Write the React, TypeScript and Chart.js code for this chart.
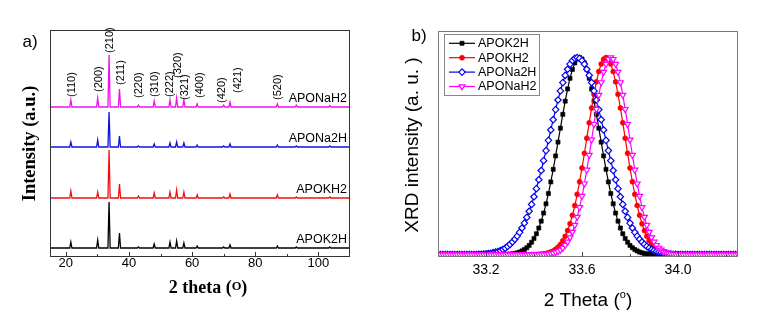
import React, { useEffect, useRef } from 'react';
import { Chart, registerables } from 'chart.js';
import { drawPoint } from 'chart.js/helpers';

Chart.register(...registerables);

const SANS = '"Liberation Sans", Arial, Helvetica, sans-serif';
const SERIF = '"Liberation Serif", "Times New Roman", serif';

// ---------------- Panel a: full XRD patterns ----------------
const hklLabels = ['(110)', '(200)', '(210)', '(211)', '(220)', '(310)', '(222)', '(320)', '(321)', '(400)', '(420)', '(421)', '(520)'];
const peakTheta = [21.6, 30.1, 33.7, 37.0, 43.0, 48.0, 53.0, 55.1, 57.4, 61.6, 70.0, 72.0, 87.0, 93.0, 103.6];
const patternNames = ['APOK2H', 'APOKH2', 'APONa2H', 'APONaH2'];
const peakK2H = [6, 8, 46, 15, 1, 4, 6, 7, 5, 2, 1, 3, 2, 1, 1];
const peakKH2 = [7, 6, 48, 14, 2, 5, 6, 8, 6, 3, 1, 4, 3, 1, 1];
const peakNa2H = [5, 7, 35, 11, 1, 3, 4, 5, 4, 2, 1, 3, 2, 1, 1];
const peakNaH2 = [7, 9, 52, 18, 2, 6, 7, 9, 7, 3, 2, 5, 3, 2, 1.5];
const patternOffsets = [9, 59, 110, 150];
const ticksA = [20, 30, 40, 50, 60, 70, 80, 90, 100];
const tickLabelsA = [20, 40, 60, 80, 100];

// ---------------- Panel b: (210) peak region ----------------
const thetaB = [
  33.00, 33.01, 33.02, 33.03, 33.04, 33.05, 33.06, 33.07, 33.08, 33.09,
  33.10, 33.11, 33.12, 33.13, 33.14, 33.15, 33.16, 33.17, 33.18, 33.19,
  33.20, 33.21, 33.22, 33.23, 33.24, 33.25, 33.26, 33.27, 33.28, 33.29,
  33.30, 33.31, 33.32, 33.33, 33.34, 33.35, 33.36, 33.37, 33.38, 33.39,
  33.40, 33.41, 33.42, 33.43, 33.44, 33.45, 33.46, 33.47, 33.48, 33.49,
  33.50, 33.51, 33.52, 33.53, 33.54, 33.55, 33.56, 33.57, 33.58, 33.59,
  33.60, 33.61, 33.62, 33.63, 33.64, 33.65, 33.66, 33.67, 33.68, 33.69,
  33.70, 33.71, 33.72, 33.73, 33.74, 33.75, 33.76, 33.77, 33.78, 33.79,
  33.80, 33.81, 33.82, 33.83, 33.84, 33.85, 33.86, 33.87, 33.88, 33.89,
  33.90, 33.91, 33.92, 33.93, 33.94, 33.95, 33.96, 33.97, 33.98, 33.99,
  34.00, 34.01, 34.02, 34.03, 34.04, 34.05, 34.06, 34.07, 34.08, 34.09,
  34.10, 34.11, 34.12, 34.13, 34.14, 34.15, 34.16, 34.17, 34.18, 34.19,
  34.20, 34.21, 34.22, 34.23, 34.24, 34.25,
];
const k2hB = [
  0, 0, 0, 0, 0, 0, 0, 0, 0, 0,
  0, 0, 0, 0, 0, 0, 0, 0, 0, 0,
  0, 0, 0, 0, 0, 0, 0, 0, 0.001, 0.002,
  0.003, 0.004, 0.006, 0.009, 0.013, 0.019, 0.026, 0.035, 0.047, 0.063,
  0.082, 0.106, 0.135, 0.170, 0.211, 0.258, 0.310, 0.369, 0.433, 0.501,
  0.571, 0.642, 0.712, 0.779, 0.841, 0.895, 0.940, 0.973, 0.993, 1,
  0.993, 0.973, 0.940, 0.895, 0.841, 0.779, 0.712, 0.642, 0.571, 0.501,
  0.433, 0.369, 0.310, 0.258, 0.211, 0.170, 0.135, 0.106, 0.082, 0.063,
  0.047, 0.035, 0.026, 0.019, 0.013, 0.009, 0.006, 0.004, 0.003, 0.002,
  0.001, 0, 0, 0, 0, 0, 0, 0, 0, 0,
  0, 0, 0, 0, 0, 0, 0, 0, 0, 0,
  0, 0, 0, 0, 0, 0, 0, 0, 0, 0,
  0, 0, 0, 0, 0, 0,
];
const kh2B = [
  0, 0, 0, 0, 0, 0, 0, 0, 0, 0,
  0, 0, 0, 0, 0, 0, 0, 0, 0, 0,
  0, 0, 0, 0, 0, 0, 0, 0, 0, 0,
  0, 0, 0, 0, 0, 0, 0, 0, 0, 0,
  0, 0.001, 0.002, 0.003, 0.004, 0.006, 0.009, 0.013, 0.019, 0.027,
  0.037, 0.051, 0.070, 0.093, 0.122, 0.157, 0.200, 0.249, 0.306, 0.370,
  0.440, 0.514, 0.591, 0.669, 0.744, 0.814, 0.877, 0.929, 0.968, 0.992,
  1, 0.992, 0.968, 0.929, 0.877, 0.814, 0.744, 0.669, 0.591, 0.514,
  0.440, 0.370, 0.306, 0.249, 0.200, 0.157, 0.122, 0.093, 0.070, 0.051,
  0.037, 0.027, 0.019, 0.013, 0.009, 0.006, 0.004, 0.003, 0.002, 0.001,
  0, 0, 0, 0, 0, 0, 0, 0, 0, 0,
  0, 0, 0, 0, 0, 0, 0, 0, 0, 0,
  0, 0, 0, 0, 0, 0,
];
const na2hB = [
  0, 0, 0, 0, 0, 0, 0, 0, 0, 0,
  0, 0, 0, 0, 0, 0.001, 0.001, 0.002, 0.002, 0.003,
  0.004, 0.006, 0.007, 0.010, 0.013, 0.016, 0.021, 0.026, 0.033, 0.042,
  0.052, 0.064, 0.078, 0.094, 0.113, 0.135, 0.160, 0.189, 0.220, 0.255,
  0.294, 0.335, 0.380, 0.427, 0.477, 0.528, 0.580, 0.633, 0.685, 0.736,
  0.785, 0.831, 0.873, 0.910, 0.941, 0.967, 0.985, 0.996, 1, 0.996,
  0.985, 0.967, 0.941, 0.910, 0.873, 0.831, 0.785, 0.736, 0.685, 0.633,
  0.580, 0.528, 0.477, 0.427, 0.380, 0.335, 0.294, 0.255, 0.220, 0.189,
  0.160, 0.135, 0.113, 0.094, 0.078, 0.064, 0.052, 0.042, 0.033, 0.026,
  0.021, 0.016, 0.013, 0.010, 0.007, 0.006, 0.004, 0.003, 0.002, 0.002,
  0.001, 0.001, 0, 0, 0, 0, 0, 0, 0, 0,
  0, 0, 0, 0, 0, 0, 0, 0, 0, 0,
  0, 0, 0, 0, 0, 0,
];
const nah2B = [
  0, 0, 0, 0, 0, 0, 0, 0, 0, 0,
  0, 0, 0, 0, 0, 0, 0, 0, 0, 0,
  0, 0, 0, 0, 0, 0, 0, 0, 0, 0,
  0, 0, 0, 0, 0, 0, 0, 0, 0, 0,
  0, 0, 0, 0.001, 0.001, 0.002, 0.003, 0.005, 0.008, 0.012,
  0.017, 0.024, 0.034, 0.048, 0.065, 0.087, 0.115, 0.150, 0.191, 0.240,
  0.297, 0.360, 0.430, 0.505, 0.583, 0.662, 0.738, 0.810, 0.874, 0.927,
  0.967, 0.992, 1, 0.992, 0.967, 0.927, 0.874, 0.810, 0.738, 0.662,
  0.583, 0.505, 0.430, 0.360, 0.297, 0.240, 0.191, 0.150, 0.115, 0.087,
  0.065, 0.048, 0.034, 0.024, 0.017, 0.012, 0.008, 0.005, 0.003, 0.002,
  0.001, 0.001, 0, 0, 0, 0, 0, 0, 0, 0,
  0, 0, 0, 0, 0, 0, 0, 0, 0, 0,
  0, 0, 0, 0, 0, 0,
];
const ticksB = [33.2, 33.4, 33.6, 33.8, 34.0, 34.2];
const tickLabelsB = [33.2, 33.6, 34.0];

// ---------------- helpers ----------------
function buildPattern(heights: number[], offset: number) {
  const pts: { x: number; y: number }[] = [{ x: 15, y: offset }];
  peakTheta.forEach((p, i) => {
    pts.push({ x: p - 0.35, y: offset }, { x: p, y: offset + heights[i] }, { x: p + 0.35, y: offset });
  });
  pts.push({ x: 110, y: offset });
  return pts;
}

function drawSupText(ctx: CanvasRenderingContext2D, cx: number, baseY: number, pre: string, sup: string, post: string, font: string, supFont: string, rise: number) {
  ctx.font = font;
  const w1 = ctx.measureText(pre).width;
  const w3 = ctx.measureText(post).width;
  ctx.font = supFont;
  const w2 = ctx.measureText(sup).width;
  let x = cx - (w1 + w2 + w3) / 2;
  ctx.textAlign = 'left';
  ctx.textBaseline = 'alphabetic';
  ctx.font = font;
  ctx.fillText(pre, x, baseY);
  x += w1;
  ctx.font = supFont;
  ctx.fillText(sup, x, baseY - rise);
  x += w2;
  ctx.font = font;
  ctx.fillText(post, x, baseY);
}

function PanelA() {
  const ref = useRef<HTMLCanvasElement>(null);
  useEffect(() => {
    const canvas = ref.current!;
    const colors = ['#000000', '#ee1111', '#1111dd', '#ee11ee'];
    const heightSets = [peakK2H, peakKH2, peakNa2H, peakNaH2];
    const datasets = heightSets.map((h, i) => ({
      label: patternNames[i],
      data: buildPattern(h, patternOffsets[i]),
      borderColor: colors[i],
      borderWidth: 1.3,
      pointRadius: 0,
      fill: false,
      tension: 0,
    }));
    // label placement tweaks (pixels): gap above peak top, horizontal nudge
    const labelGap = [3, 6, 2, 4, 7, 4, 3, 20, 0, 6, 2, 9, 4];
    const labelNudge = [1, 1, 1, 1.5, 0.5, 0.5, 0, 1, 1.5, 3, -2, 8, 1];
    const deco = {
      id: 'decoA',
      afterDraw(chart: any) {
        const { ctx, chartArea: ca, scales } = chart;
        const xs = scales.x;
        const ys = scales.y;
        ctx.save();
        ctx.strokeStyle = '#333';
        ctx.lineWidth = 1;
        ctx.strokeRect(ca.left + 0.5, ca.top + 0.5, ca.right - ca.left - 1, ca.bottom - ca.top - 1);
        ctx.beginPath();
        ticksA.forEach((v) => {
          const x = Math.round(xs.getPixelForValue(v)) + 0.5;
          const len = tickLabelsA.includes(v) ? 5 : 3;
          ctx.moveTo(x, ca.bottom);
          ctx.lineTo(x, ca.bottom - len);
        });
        ctx.stroke();

        ctx.fillStyle = '#000';
        ctx.font = `11px ${SANS}`;
        ctx.textAlign = 'left';
        ctx.textBaseline = 'middle';
        hklLabels.forEach((lab, i) => {
          const x = xs.getPixelForValue(peakTheta[i]) + labelNudge[i];
          const y = ys.getPixelForValue(patternOffsets[3] + peakNaH2[i]) - labelGap[i];
          ctx.save();
          ctx.translate(x, y);
          ctx.rotate(-Math.PI / 2);
          ctx.fillText(lab, 0, 0);
          ctx.restore();
        });

        ctx.font = `12.5px ${SANS}`;
        ctx.textAlign = 'right';
        ctx.textBaseline = 'alphabetic';
        patternNames.forEach((n, i) => {
          ctx.fillText(n, ca.right - 3, ys.getPixelForValue(patternOffsets[i]) - 5.5);
        });

        ctx.font = `17px ${SANS}`;
        ctx.textAlign = 'center';
        ctx.fillText('a)', 30, 47);

        ctx.save();
        ctx.font = `bold 18.5px ${SERIF}`;
        ctx.translate(35, (ca.top + ca.bottom) / 2);
        ctx.rotate(-Math.PI / 2);
        ctx.textAlign = 'center';
        ctx.fillText('Intensity (a.u.)', 0, 0);
        ctx.restore();

        drawSupText(ctx, (ca.left + ca.right) / 2 + 8, 293, '2 theta (', 'O', ')', `bold 18px ${SERIF}`, `bold 12.5px ${SERIF}`, 3);
        ctx.restore();
      },
    };
    const chart = new Chart(canvas, {
      type: 'line',
      data: { datasets },
      options: {
        animation: false,
        responsive: false,
        layout: { padding: { left: 0, top: 30, right: 30, bottom: 0 } },
        plugins: { legend: { display: false }, tooltip: { enabled: false } },
        scales: {
          x: {
            type: 'linear',
            min: 15,
            max: 110,
            afterBuildTicks: (s: any) => { s.ticks = ticksA.map((v) => ({ value: v })); },
            afterFit: (s: any) => { s.height = 71; },
            grid: { display: false, drawTicks: false },
            border: { display: false },
            ticks: {
              autoSkip: false,
              maxRotation: 0,
              padding: -1,
              color: '#000',
              font: { family: SANS, size: 13 },
              callback: (v: any) => (tickLabelsA.includes(v) ? String(v) : ''),
            },
          },
          y: {
            type: 'linear',
            min: 0,
            max: 227,
            afterFit: (s: any) => { s.width = 50; },
            grid: { display: false, drawTicks: false },
            border: { display: false },
            ticks: { display: false },
          },
        },
      },
      plugins: [deco],
    } as any);
    return () => chart.destroy();
  }, []);
  return <canvas ref={ref} width={380} height={328} style={{ position: 'absolute', left: 0, top: 0, width: 380, height: 328 }} />;
}

function PanelB() {
  const ref = useRef<HTMLCanvasElement>(null);
  useEffect(() => {
    const canvas = ref.current!;
    const specs = [
      { data: k2hB, color: '#000000', style: 'rect', radius: 2.9, fill: '#000000', rot: 0, bw: 0.6, order: 3 },
      { data: kh2B, color: '#ff0000', style: 'circle', radius: 2.5, fill: '#ff0000', rot: 0, bw: 0.6, order: 2 },
      { data: na2hB, color: '#0000ee', style: 'rectRot', radius: 3.2, fill: '#ffffff', rot: 0, bw: 1.2, order: 1 },
      { data: nah2B, color: '#ff00ff', style: 'triangle', radius: 3.4, fill: '#ffffff', rot: 180, bw: 1.2, order: 0 },
    ];
    const datasets = specs.map((s, i) => ({
      label: patternNames[i],
      data: thetaB.map((x, k) => ({ x, y: s.data[k] })),
      borderColor: s.color,
      borderWidth: 1.2,
      pointStyle: s.style,
      pointRadius: s.radius,
      pointRotation: s.rot,
      pointBackgroundColor: s.fill,
      pointBorderColor: s.color,
      pointBorderWidth: s.bw,
      fill: false,
      tension: 0,
      order: s.order,
    }));
    const deco = {
      id: 'decoB',
      afterDraw(chart: any) {
        const { ctx, chartArea: ca, scales } = chart;
        const xs = scales.x;
        ctx.save();
        ctx.strokeStyle = '#777';
        ctx.lineWidth = 1;
        ctx.strokeRect(ca.left + 0.5, ca.top + 0.5, ca.right - ca.left - 1, ca.bottom - ca.top - 1);
        ctx.strokeStyle = '#444';
        ctx.beginPath();
        ticksB.forEach((v) => {
          const x = Math.round(xs.getPixelForValue(v)) + 0.5;
          const major = tickLabelsB.some((t) => Math.abs(t - v) < 1e-6);
          ctx.moveTo(x, ca.bottom);
          ctx.lineTo(x, ca.bottom - (major ? 5 : 3));
        });
        ctx.stroke();

        // legend
        const lx = ca.left + 6;
        const ly = ca.top + 3;
        ctx.fillStyle = '#fff';
        ctx.fillRect(lx, ly, 95, 61);
        ctx.strokeStyle = '#888';
        ctx.strokeRect(lx + 0.5, ly + 0.5, 95, 61);
        specs.forEach((s, i) => {
          const y = ly + 9.3 + i * 14.4;
          ctx.strokeStyle = s.color;
          ctx.lineWidth = 1.2;
          ctx.beginPath();
          ctx.moveTo(lx + 5, y);
          ctx.lineTo(lx + 31, y);
          ctx.stroke();
          ctx.fillStyle = s.fill;
          ctx.lineWidth = s.bw;
          drawPoint(ctx, { pointStyle: s.style, radius: s.radius, rotation: s.rot, borderWidth: s.bw } as any, lx + 18, y);
          ctx.fillStyle = '#000';
          ctx.font = `12.5px ${SANS}`;
          ctx.textAlign = 'left';
          ctx.textBaseline = 'middle';
          ctx.fillText(patternNames[i], lx + 34, y + 0.5);
        });

        ctx.fillStyle = '#000';
        ctx.textBaseline = 'alphabetic';
        ctx.font = `17px ${SANS}`;
        ctx.textAlign = 'center';
        ctx.fillText('b)', 39, 41);

        ctx.save();
        ctx.font = `19px ${SANS}`;
        ctx.translate(38, (ca.top + ca.bottom) / 2 + 1);
        ctx.rotate(-Math.PI / 2);
        ctx.textAlign = 'center';
        ctx.fillText('XRD intensity (a. u. )', 0, 0);
        ctx.restore();

        drawSupText(ctx, (ca.left + ca.right) / 2, 305.5, '2 Theta (', 'o', ')', `19px ${SANS}`, `11px ${SANS}`, 7.5);
        ctx.restore();
      },
    };
    const chart = new Chart(canvas, {
      type: 'line',
      data: { datasets },
      options: {
        animation: false,
        responsive: false,
        layout: { padding: { left: 0, top: 31, right: 22, bottom: 0 } },
        plugins: { legend: { display: false }, tooltip: { enabled: false } },
        scales: {
          x: {
            type: 'linear',
            min: 33.0,
            max: 34.25,
            afterBuildTicks: (s: any) => { s.ticks = ticksB.map((v) => ({ value: v })); },
            afterFit: (s: any) => { s.height = 71; },
            grid: { display: false, drawTicks: false },
            border: { display: false },
            ticks: {
              autoSkip: false,
              maxRotation: 0,
              padding: 5,
              color: '#000',
              font: { family: SANS, size: 14 },
              callback: (v: any) => (tickLabelsB.some((t) => Math.abs(t - v) < 1e-6) ? Number(v).toFixed(1) : ''),
            },
          },
          y: {
            type: 'linear',
            min: -0.012,
            max: 1.135,
            afterFit: (s: any) => { s.width = 58; },
            grid: { display: false, drawTicks: false },
            border: { display: false },
            ticks: { display: false },
          },
        },
      },
      plugins: [deco],
    } as any);
    return () => chart.destroy();
  }, []);
  return <canvas ref={ref} width={380} height={328} style={{ position: 'absolute', left: 380, top: 0, width: 380, height: 328 }} />;
}

export default function App() {
  return (
    <div style={{ position: 'fixed', left: 0, top: 0, width: 760, height: 328, background: '#fff', overflow: 'hidden' }}>
      <PanelA />
      <PanelB />
    </div>
  );
}
